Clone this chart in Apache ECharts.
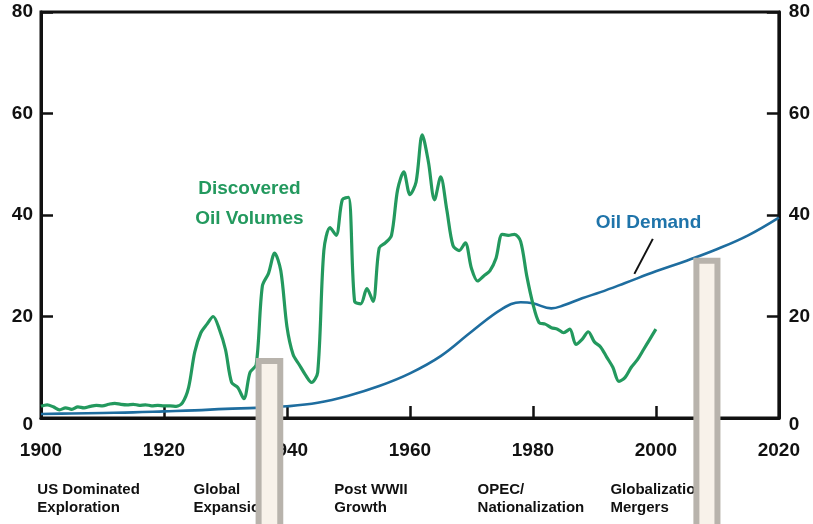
<!DOCTYPE html>
<html>
<head>
<meta charset="utf-8">
<script src="https://cdn.jsdelivr.net/npm/echarts@6/dist/echarts.min.js"></script>
<style>
  html, body { margin: 0; padding: 0; background: #ffffff; }
  #chart { width: 813px; height: 524px; }
</style>
</head>
<body>
<div id="chart"></div>
<script>
// Discovered oil volumes (annual) and oil demand, 1900-2020
const discoveredYears = [
  1900, 1901, 1902, 1903, 1904, 1905, 1906, 1907, 1908, 1909,
  1910, 1911, 1912, 1913, 1914, 1915, 1916, 1917, 1918, 1919,
  1920, 1921, 1922, 1923, 1924, 1925, 1926, 1927, 1928, 1929,
  1930, 1931, 1932, 1933, 1934, 1935, 1936, 1937, 1938, 1939,
  1940, 1941, 1942, 1943, 1944, 1945, 1946, 1947, 1948, 1949,
  1950, 1951, 1952, 1953, 1954, 1955, 1956, 1957, 1958, 1959,
  1960, 1961, 1962, 1963, 1964, 1965, 1966, 1967, 1968, 1969,
  1970, 1971, 1972, 1973, 1974, 1975, 1976, 1977, 1978, 1979,
  1980, 1981, 1982, 1983, 1984, 1985, 1986, 1987, 1988, 1989,
  1990, 1991, 1992, 1993, 1994, 1995, 1996, 1997, 1998, 1999,
  2000
];
const discoveredVolumes = [
  2.3, 2.6, 2.2, 1.6, 2.0, 1.7, 2.2, 2.0, 2.3, 2.5,
  2.4, 2.7, 2.9, 2.7, 2.6, 2.7, 2.5, 2.6, 2.4, 2.5,
  2.4, 2.4, 2.3, 3.0, 6.0, 13.0, 16.8, 18.5, 20.0, 17.5,
  13.5, 7.0, 6.0, 3.8, 9.0, 10.5, 26.0, 28.5, 32.5, 29.0,
  18.0, 12.5, 10.5, 8.5, 7.0, 9.0, 33.0, 37.5, 36.0, 43.0,
  43.5, 23.0, 22.5, 25.5, 23.0, 33.5, 34.5, 36.0, 45.0, 48.5,
  44.0, 46.5, 55.8, 50.5, 43.0, 47.5, 41.0, 34.0, 33.0, 34.5,
  29.5, 27.0, 28.0, 29.0, 31.5, 36.2, 36.0, 36.2, 34.8, 28.0,
  22.5, 18.8, 18.5, 17.8, 17.5, 16.8, 17.5, 14.5, 15.5, 17.0,
  15.0, 14.0, 12.0, 10.0, 7.2, 8.0, 10.0, 11.5, 13.5, 15.5,
  17.5
];

const demandYears = [
  1900, 1905, 1910, 1915, 1920, 1925, 1930, 1935, 1940, 1945,
  1950, 1955, 1960, 1965, 1970, 1975, 1978, 1980, 1983, 1985,
  1988, 1991, 1995, 2000, 2005, 2010, 2015, 2020
];
const demandVolumes = [
  0.8, 0.9, 1.0, 1.1, 1.3, 1.5, 1.8, 2.0, 2.3, 3.0,
  4.4, 6.3, 8.8, 12.2, 17.0, 21.5, 22.8, 22.6, 21.6, 22.2,
  23.6, 24.8, 26.6, 28.9, 31.0, 33.3, 36.0, 39.5
];

const yTicks = { min: 0, max: 80, step: 20 };
const xTicks = { min: 1900, max: 2020, step: 20 };

// Eras shown under the time axis (label, start year)
const eraLabels = [
  'US Dominated\nExploration',
  'Global\nExpansion',
  'Post WWII\nGrowth',
  'OPEC/\nNationalization',
  'Globalization\nMergers'
];
const eraStartYears = [1899.4, 1924.8, 1947.7, 1971.0, 1992.6];

// Highlight columns: [from year, to year, top value]
const highlightColumns = [
  [1934.9, 1939.4, 11.8],
  [2006.1, 2010.5, 31.6]
];

// Series captions: [text, year, value]
const discoveredCaption = ['Discovered\nOil Volumes', 1933.9, 42.2];
const demandCaption = ['Oil Demand', 1998.8, 38.4];
const demandPointer = [[1999.5, 35.3], [1996.5, 28.4]];

const FONT = '"Liberation Sans", Arial, sans-serif';
const GREEN = '#23995e';
const BLUE = '#1e6d9f';
const INK = '#111111';

const pairs = (xs, ys) => xs.map((x, i) => [x, ys[i]]);

const chart = echarts.init(document.getElementById('chart'), null, { renderer: 'canvas' });

const yAxisBase = (position, margin) => ({
  type: 'value',
  position: position,
  min: yTicks.min,
  max: yTicks.max,
  interval: yTicks.step,
  axisLine: { show: true, onZero: false, lineStyle: { color: INK, width: 3 } },
  axisTick: { show: true, inside: true, length: 12, lineStyle: { color: INK, width: 2.5 } },
  splitLine: { show: false },
  axisLabel: {
    margin: margin,
    color: INK,
    fontFamily: FONT,
    fontWeight: 'bold',
    fontSize: 19,
    formatter: v => (v === 0 ? '{z|0}' : String(v)),
    rich: { z: { fontFamily: FONT, fontWeight: 'bold', fontSize: 19, color: INK, padding: [14, 0, 0, 0] } }
  }
});

chart.setOption({
  animation: false,
  backgroundColor: '#ffffff',
  grid: {
    left: 41, right: 32, top: 12, bottom: 106,
    show: true, borderColor: INK, borderWidth: 3, backgroundColor: 'transparent'
  },
  xAxis: {
    type: 'value',
    min: xTicks.min,
    max: xTicks.max,
    interval: xTicks.step,
    axisLine: { show: true, onZero: false, lineStyle: { color: INK, width: 3 } },
    axisTick: { show: true, inside: true, length: 12, lineStyle: { color: INK, width: 2.5 } },
    splitLine: { show: false },
    axisLabel: {
      margin: 23,
      color: INK,
      fontFamily: FONT,
      fontWeight: 'bold',
      fontSize: 19,
      formatter: v => String(v)
    }
  },
  yAxis: [yAxisBase('left', 8), yAxisBase('right', 10)],
  series: [
    {
      name: 'Oil Demand',
      type: 'line',
      data: pairs(demandYears, demandVolumes),
      smooth: 0.4,
      showSymbol: false,
      lineStyle: { color: BLUE, width: 2.6 },
      z: 3,
      markLine: {
        silent: true,
        symbol: ['none', 'none'],
        label: { show: false },
        lineStyle: { color: INK, width: 2, type: 'solid' },
        data: [[{ coord: demandPointer[0] }, { coord: demandPointer[1] }]]
      }
    },
    {
      name: 'Discovered Oil Volumes',
      type: 'line',
      data: pairs(discoveredYears, discoveredVolumes),
      smooth: 0.3,
      showSymbol: false,
      lineStyle: { color: GREEN, width: 3.2 },
      z: 4
    },
    {
      name: 'highlight',
      type: 'custom',
      silent: true,
      clip: false,
      z: 20,
      data: highlightColumns,
      renderItem: (params, api) => {
        const topLeft = api.coord([api.value(0), api.value(2)]);
        const bottomRight = api.coord([api.value(1), 0]);
        const bw = 6;
        const x = topLeft[0] + bw / 2;
        const y = topLeft[1] + bw / 2;
        return {
          type: 'rect',
          shape: {
            x: x,
            y: y,
            width: bottomRight[0] - topLeft[0] - bw,
            height: api.getHeight() - y + 10
          },
          style: { fill: '#f8f2ea', stroke: '#b8b3ac', lineWidth: bw }
        };
      }
    }
  ]
});

// Captions and era names placed through the chart's own scales
const toPx = (x, y) => chart.convertToPixel({ xAxisIndex: 0, yAxisIndex: 0 }, [x, y]);
const axisY = toPx(xTicks.min, 0)[1];

const graphics = [];
const dPos = toPx(discoveredCaption[1], discoveredCaption[2]);
graphics.push({
  type: 'text', x: dPos[0], y: dPos[1], z: 5,
  style: {
    text: discoveredCaption[0], fill: GREEN, font: 'bold 19px ' + FONT,
    align: 'center', verticalAlign: 'middle', lineHeight: 30
  }
});
const oPos = toPx(demandCaption[1], demandCaption[2]);
graphics.push({
  type: 'text', x: oPos[0], y: oPos[1], z: 5,
  style: {
    text: demandCaption[0], fill: '#1f74aa', font: 'bold 19px ' + FONT,
    align: 'center', verticalAlign: 'middle'
  }
});
eraLabels.forEach((label, i) => {
  const p = toPx(eraStartYears[i], 0);
  graphics.push({
    type: 'text', x: p[0], y: axisY + 63, z: 1,
    style: {
      text: label, fill: INK, font: 'bold 15px ' + FONT,
      align: 'left', verticalAlign: 'top', lineHeight: 18
    }
  });
});

chart.setOption({ graphic: { elements: graphics } });
</script>
</body>
</html>
